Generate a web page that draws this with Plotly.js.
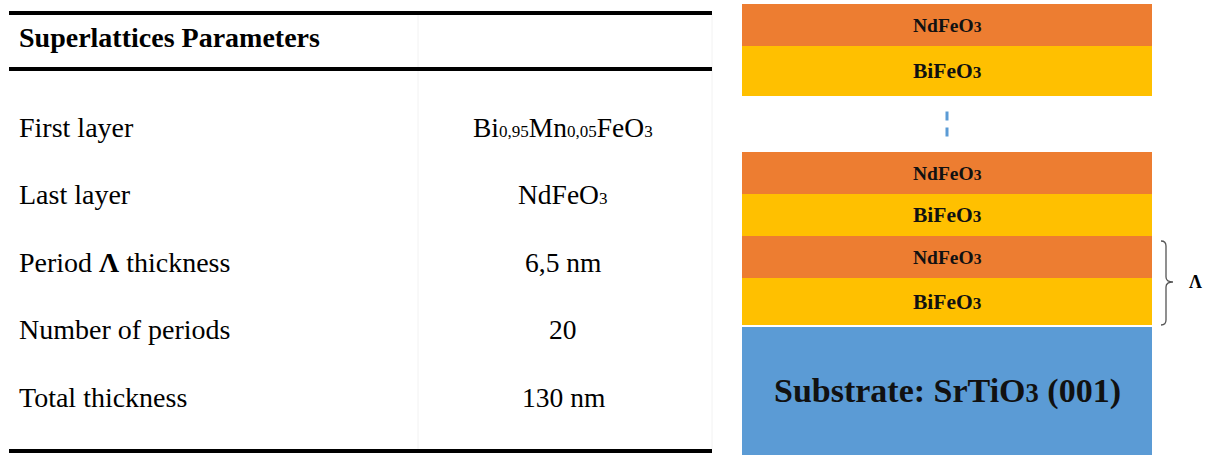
<!DOCTYPE html>
<html><head><meta charset="utf-8">
<script src="https://cdn.plot.ly/plotly-3.0.1.min.js"></script>
<style>html,body{margin:0;padding:0;background:#fff}#chart{width:1208px;height:455px}</style>
</head><body><div id="chart"></div>
<script>
// ---- table data ----
const tableTitle = 'Superlattices Parameters';
const paramLabels = ['First layer', 'Last layer', 'Period <b>Λ</b> thickness', 'Number of periods', 'Total thickness'];
const paramValues = [
  'Bi<span style="font-size:62%">0,95</span>Mn<span style="font-size:62%">0,05</span>FeO<span style="font-size:62%">3</span>',
  'NdFeO<span style="font-size:62%">3</span>',
  '6,5 nm', '20', '130 nm'
];
// ---- layer stack data (bottom to top) ----
const layerKinds = ['substrate', 'BiFeO3', 'NdFeO3', 'BiFeO3', 'NdFeO3', 'break', 'BiFeO3', 'NdFeO3'];
const layerLabels = [
  'Substrate: SrTiO<span style="font-size:78%">3</span> (001)',
  'BiFeO<span style="font-size:80%">3</span>', 'NdFeO<span style="font-size:80%">3</span>',
  'BiFeO<span style="font-size:80%">3</span>', 'NdFeO<span style="font-size:80%">3</span>',
  '',
  'BiFeO<span style="font-size:80%">3</span>', 'NdFeO<span style="font-size:80%">3</span>'
];
const layerThickness = [128, 47, 42, 42, 42, 56, 50, 42];
const layerGapBelow = [0, 2, 0, 0, 0, 0, 0, 0];
const periodLayers = [1, 2];
const periodSymbol = 'Λ';

// ---- styles ----
const W = 1208, H = 455;
const kindColor = {substrate: '#5B9BD5', BiFeO3: '#FFC000', NdFeO3: '#ED7D31', break: 'rgba(0,0,0,0)'};
const kindFont = {substrate: 34, BiFeO3: 21.5, NdFeO3: 19.5, break: 12};
const serif = 'Liberation Serif, Times New Roman, serif';
const px = v => v / W;
const py = v => 1 - v / H;

// bases
const bases = [];
let acc = 0;
layerThickness.forEach((t, i) => { acc += layerGapBelow[i]; bases.push(acc); acc += t; });

const trace = {
  type: 'bar',
  x: layerThickness.map(() => 0),
  y: layerThickness,
  base: bases,
  width: layerThickness.map(() => 1),
  marker: {color: layerKinds.map(k => kindColor[k]), line: {width: 0}},
  hoverinfo: 'skip',
  showlegend: false,
  xaxis: 'x', yaxis: 'y'
};

const annotations = [];
const shapes = [];

// table header & rules
annotations.push({xref: 'paper', yref: 'paper', x: px(17), y: py(37), xanchor: 'left', yanchor: 'middle',
  text: '<b>' + tableTitle + '</b>', showarrow: false, font: {family: serif, size: 28, color: '#000'}});
const rowStart = 127, rowStep = 67.5;
paramLabels.forEach((lab, i) => {
  const yy = rowStart + i * rowStep;
  annotations.push({xref: 'paper', yref: 'paper', x: px(17), y: py(yy), xanchor: 'left', yanchor: 'middle',
    text: lab, showarrow: false, font: {family: serif, size: 28, color: '#000'}});
  annotations.push({xref: 'paper', yref: 'paper', x: px(563), y: py(yy), xanchor: 'center', yanchor: 'middle',
    text: paramValues[i], showarrow: false, font: {family: serif, size: 27.5, color: '#000'}});
});
[13, 69, 451].forEach(yy => shapes.push({type: 'line', xref: 'paper', yref: 'paper',
  x0: px(9), x1: px(712), y0: py(yy), y1: py(yy), line: {color: '#000', width: 4}}));
[418, 712].forEach(xx => shapes.push({type: 'line', xref: 'paper', yref: 'paper', layer: 'below',
  x0: px(xx), x1: px(xx), y0: py(15), y1: py(449), line: {color: '#f2f2f2', width: 1}}));

// layer labels
layerKinds.forEach((k, i) => {
  if (k === 'break') {
    const mid = bases[i] + layerThickness[i] / 2;
    shapes.push({type: 'line', xref: 'x', yref: 'y', x0: 0, x1: 0, y0: mid - 12.5, y1: mid + 12.5,
      line: {color: '#5B9BD5', width: 3, dash: '9px,7px'}});
    return;
  }
  annotations.push({xref: 'x', yref: 'y', x: 0, y: bases[i] + layerThickness[i] / 2, xanchor: 'center', yanchor: 'middle',
    text: '<b>' + layerLabels[i] + '</b>', showarrow: false, font: {family: serif, size: kindFont[k], color: '#111'}});
});

// period brace
const pBot = bases[periodLayers[0]];
const pTopIdx = periodLayers[periodLayers.length - 1];
const pTop = bases[pTopIdx] + layerThickness[pTopIdx] - 5;
const pMid = (pBot + pTop) / 2 + 1;
const bx0 = px(1161), bx1 = px(1166), bx2 = px(1173), d = 5;
shapes.push({type: 'path', xref: 'paper', yref: 'y',
  path: `M ${bx0},${pTop} Q ${bx1},${pTop} ${bx1},${pTop - d} L ${bx1},${pMid + d} Q ${bx1},${pMid} ${bx2},${pMid} ` +
        `Q ${bx1},${pMid} ${bx1},${pMid - d} L ${bx1},${pBot + d} Q ${bx1},${pBot} ${bx0},${pBot}`,
  line: {color: '#555', width: 1.3}});
annotations.push({xref: 'paper', yref: 'y', x: px(1195), y: pMid, xanchor: 'center', yanchor: 'middle',
  text: '<b>' + periodSymbol + '</b>', showarrow: false, font: {family: serif, size: 18, color: '#000'}});

const layout = {
  width: W, height: H,
  margin: {l: 0, r: 0, t: 0, b: 0, pad: 0},
  paper_bgcolor: '#fff', plot_bgcolor: 'rgba(0,0,0,0)',
  barmode: 'overlay',
  xaxis: {domain: [px(742), px(1152)], range: [-0.5, 0.5], visible: false, fixedrange: true},
  yaxis: {domain: [0, 1], range: [0, H], visible: false, fixedrange: true},
  annotations: annotations,
  shapes: shapes,
  showlegend: false
};

Plotly.newPlot('chart', [trace], layout, {displayModeBar: false, staticPlot: true});
</script>
</body></html>
